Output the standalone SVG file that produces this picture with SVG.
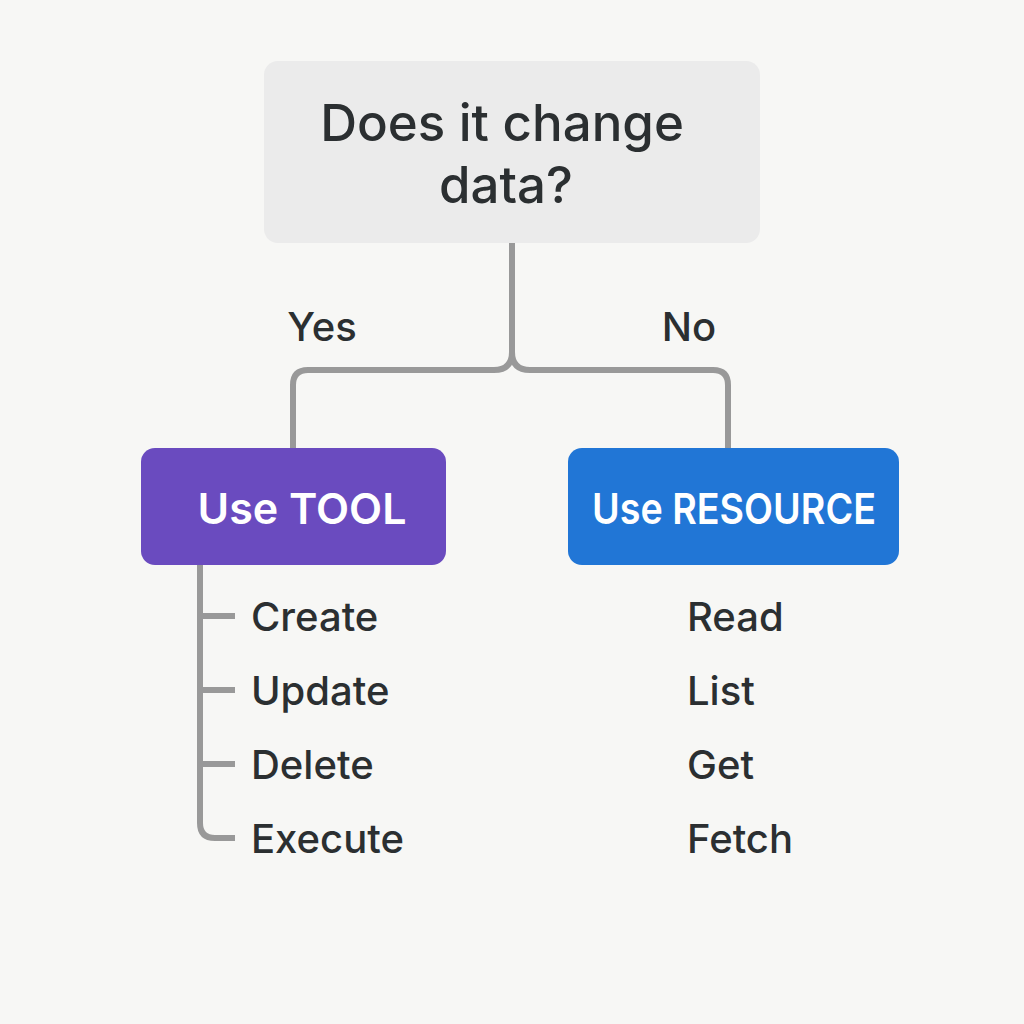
<svg xmlns="http://www.w3.org/2000/svg" width="1024" height="1024" viewBox="0 0 1024 1024">
<style>
.t{font-family:Inter,"Noto Sans",sans-serif;fill:#2b2f31;font-weight:500}
.w{font-family:Inter,Roboto,sans-serif;fill:#fff;font-weight:600}
.c{fill:none;stroke:#999;stroke-width:6;stroke-linecap:butt;stroke-linejoin:round}
</style>
<rect width="1024" height="1024" fill="#f7f7f5"/>
<g id="connectors">
<path class="c" d="M512 243 V352 Q512 370 494 370 H308 Q293 370 293 385 V448"/>
<path class="c" d="M512 352 Q512 370 530 370 H713 Q728 370 728 385 V448"/>
<path class="c" d="M200 565 V823 Q200 838 215 838 H235"/>
<path class="c" d="M200 616 H235 M200 690 H235 M200 764 H235"/>
</g>
<g id="question">
<rect x="264" y="61" width="496" height="182" rx="14" fill="#ebebeb"/>
<text class="t" x="502" y="141" font-size="51" text-anchor="middle">Does it change</text>
<text class="t" x="506" y="203" font-size="51" text-anchor="middle">data?</text>
</g>
<g id="labels">
<text class="t" x="322" y="341" font-size="40" text-anchor="middle">Yes</text>
<text class="t" x="689" y="341" font-size="40" text-anchor="middle">No</text>
</g>
<g id="tool">
<rect x="141" y="448" width="305" height="117" rx="14" fill="#6a4bbf"/>
<text class="w" x="302" y="524" font-size="43" text-anchor="middle">Use TOOL</text>
</g>
<g id="resource">
<rect x="568" y="448" width="331" height="117" rx="14" fill="#2176d6"/>
<text class="w" x="734" y="524" font-size="43" text-anchor="middle" textLength="284" lengthAdjust="spacingAndGlyphs">Use RESOURCE</text>
</g>
<g id="tool-items">
<text class="t" x="251" y="631" font-size="40">Create</text>
<text class="t" x="251" y="705" font-size="40">Update</text>
<text class="t" x="251" y="779" font-size="40">Delete</text>
<text class="t" x="251" y="853" font-size="40">Execute</text>
</g>
<g id="resource-items">
<text class="t" x="687" y="631" font-size="40">Read</text>
<text class="t" x="687" y="705" font-size="40">List</text>
<text class="t" x="687" y="779" font-size="40">Get</text>
<text class="t" x="687" y="853" font-size="40">Fetch</text>
</g>
</svg>
